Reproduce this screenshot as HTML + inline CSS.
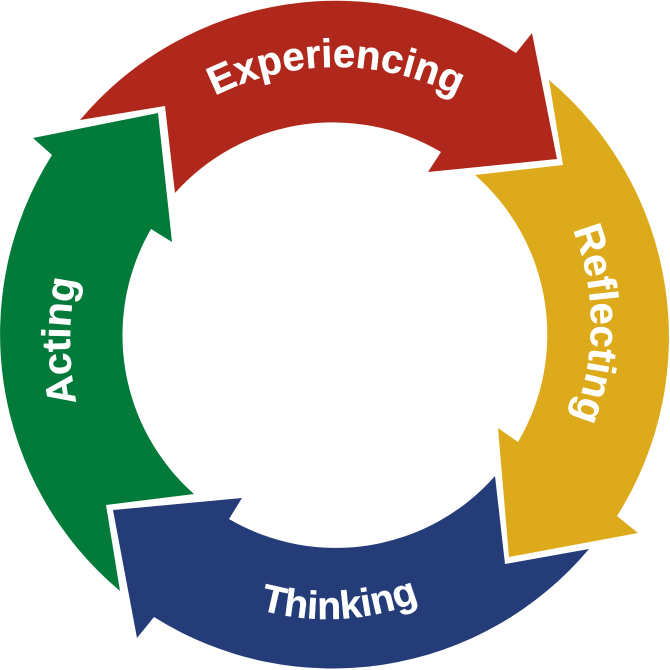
<!DOCTYPE html>
<html><head><meta charset="utf-8"><style>
html,body{margin:0;padding:0;background:#fff}
svg{display:block}
text{font-family:"Liberation Sans",sans-serif;font-weight:bold;fill:#fff;stroke:#fff;stroke-width:.4;text-anchor:middle}
</style></head><body>
<svg width="670" height="670" viewBox="0 0 670 670" xmlns="http://www.w3.org/2000/svg">
<defs>
<path id="top" d="M67 335A268 268 0 0 1 603 335"/>
<path id="ref" d="M336 69A255 255 0 0 1 336 579"/>
<path id="bot" d="M77 369A250 250 0 0 0 577 369"/>
<path id="act" d="M370 641A300 300 0 0 1 370 41"/>
</defs>
<path fill="#b0271b" d="M80 120A335 335 0 0 1 516 53L532 33L557 159L428 172L441 152A212 212 0 0 0 175 193L165 106Z"/>
<path fill="#dcaa1a" d="M549 80A335 335 0 0 1 617 516L638 533L509 557L498 428L518 442A212 212 0 0 0 475 175L563 165Z"/>
<path fill="#243d78" d="M589 549A335 335 0 0 1 154 617L137 638L113 510L242 498L229 519A212 212 0 0 0 495 476L505 564Z"/>
<path fill="#027a3a" d="M120 591A335 335 0 0 1 52 155L33 138L158 113L172 242L151 229A212 212 0 0 0 194 494L106 505Z"/>
<g transform="translate(1 0)"><text font-size="40"><textPath href="#top" startOffset="50%">Experiencing</textPath></text></g>
<text font-size="40"><textPath href="#ref" startOffset="50%">Reflecting</textPath></text>
<g transform="rotate(-3 327 369)"><text font-size="39"><textPath href="#bot" startOffset="50%">Thinking</textPath></text></g>
<text font-size="40"><textPath href="#act" startOffset="50%">Acting</textPath></text>
</svg>
</body></html>
